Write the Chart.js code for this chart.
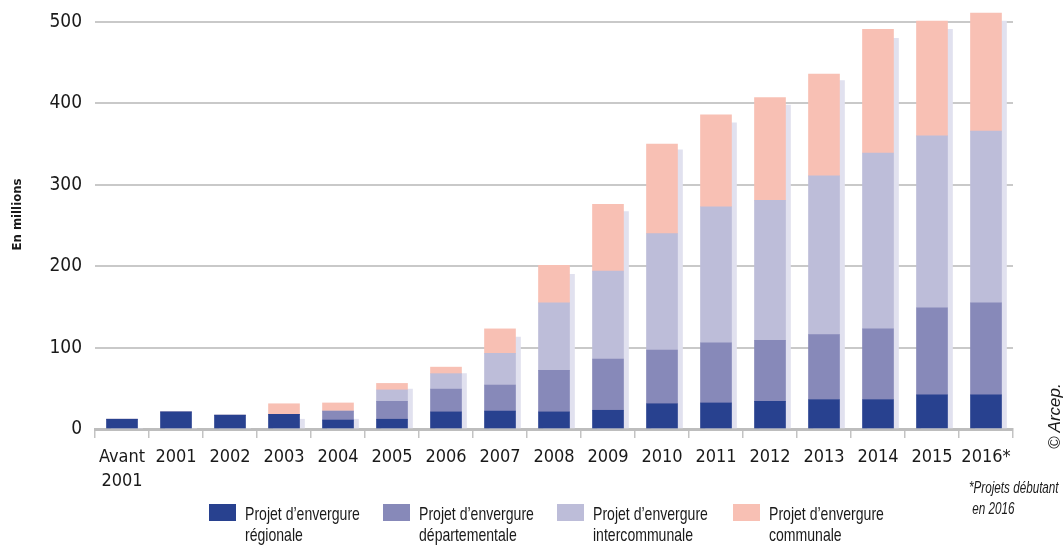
<!DOCTYPE html>
<html lang="fr">
<head>
<meta charset="utf-8">
<script src="https://cdn.jsdelivr.net/npm/chart.js@4/dist/chart.umd.min.js"></script>
<style>
  body { margin: 0; background: #fff; font-family: "Liberation Sans", sans-serif; color: #1a1a1a; }
  #cadre { position: relative; width: 1064px; height: 547px; overflow: hidden; }
  .legende { position: absolute; top: 504px; display: flex; align-items: flex-start; }
  .legende span.case { width: 27px; height: 17px; margin-right: 9px; flex: none; }
  .legende div { font-size: 19px; line-height: 21px; white-space: nowrap; transform: scaleX(0.74); transform-origin: 0 0; margin-top: -1px; }
  .note { position: absolute; left: 969px; top: 477px; font-size: 16px; line-height: 21px; font-style: italic; white-space: nowrap; transform: scaleX(0.73); transform-origin: 0 0; }
  .copyright { position: absolute; left: 1045px; top: 449px; font-size: 17px; font-style: italic; transform-origin: 0 0; transform: rotate(-90deg); white-space: nowrap; }
</style>
</head>
<body>
<div id="cadre">
  <canvas id="graphiqueReseaux"></canvas>
  <div class="legende" style="left:209px"><span class="case" style="background:#28418f"></span><div>Projet d’envergure<br>régionale</div></div>
  <div class="legende" style="left:383px"><span class="case" style="background:#8789b9"></span><div>Projet d’envergure<br>départementale</div></div>
  <div class="legende" style="left:557px"><span class="case" style="background:#bdbdd9"></span><div>Projet d’envergure<br>intercommunale</div></div>
  <div class="legende" style="left:733px"><span class="case" style="background:#f8c0b4"></span><div>Projet d’envergure<br>communale</div></div>
  <div class="note">*Projets débutant<br>&nbsp;en 2016</div>
  <div class="copyright">© Arcep.</div>
</div>
<script>
// années de début des projets
var annees = [['Avant', '2001'], '2001', '2002', '2003', '2004', '2005', '2006', '2007', '2008',
    '2009', '2010', '2011', '2012', '2013', '2014', '2015', '2016*'];

// montants cumulés par envergure (en millions)
var regionale      = [12, 21, 17, 18, 11, 12, 21, 22, 21, 23, 31, 32, 34, 36, 36, 42, 42];
var departementale = [0, 0, 0, 0, 11, 22, 28, 32, 51, 63, 66, 74, 75, 80, 87, 107, 113];
var intercommunale = [0, 0, 0, 0, 0, 14, 19, 39, 83, 108, 143, 167, 172, 195, 216, 211, 211];
var communale      = [0, 0, 0, 13, 10, 8, 8, 30, 46, 82, 110, 113, 126, 125, 152, 141, 145];
// barre grise derriere chaque colonne
var ombre          = [0, 0, 0, 12, 12, 49, 68, 113, 190, 267, 343, 376, 398, 428, 480, 491, 501];

var graduations = [0, 100, 200, 300, 400, 500];

var policeAxes = "'DejaVu Sans Condensed', 'Liberation Sans', sans-serif";

// decale l'ombre de quelques pixels vers la droite
var decalageOmbre = {
    id: 'decalageOmbre',
    beforeDatasetDraw: function (chart, args) {
        if (chart.data.datasets[args.index].ombre) {
            chart.ctx.save();
            chart.ctx.translate(5, 0);
        }
    },
    afterDatasetDraw: function (chart, args) {
        if (chart.data.datasets[args.index].ombre) {
            chart.ctx.restore();
        }
    }
};

function serie(label, valeurs, couleur) {
    return {
        label: label,
        data: valeurs,
        backgroundColor: couleur,
        stack: 'projets',
        order: 0,
        barThickness: 31
    };
}

var ctx = document.getElementById('graphiqueReseaux');
var chart = new Chart(ctx, {
    type: 'bar',
    data: {
        labels: annees,
        datasets: [
            serie('Projet d’envergure régionale', regionale, '#28418f'),
            serie('Projet d’envergure départementale', departementale, '#8789b9'),
            serie('Projet d’envergure intercommunale', intercommunale, '#bdbdd9'),
            serie('Projet d’envergure communale', communale, '#f8c0b4'),
            {
                label: 'ombre',
                data: ombre,
                ombre: true,
                backgroundColor: '#e1e1ef',
                stack: 'ombre',
                grouped: false,
                order: 1,
                barThickness: 31
            }
        ]
    },
    options: {
        responsive: true,
        maintainAspectRatio: false,
        animation: false,
        layout: { padding: { top: 0, right: 51, bottom: 0, left: 0 } },
        plugins: {
            legend: { display: false },
            tooltip: { enabled: false }
        },
        scales: {
            x: {
                stacked: true,
                grid: {
                    offset: true,
                    drawOnChartArea: false,
                    drawTicks: true,
                    tickLength: 9,
                    color: '#c3c3c3',
                    lineWidth: 1.5
                },
                border: { display: true, color: '#bdbdbd', width: 3 },
                ticks: {
                    color: '#1a1a1a',
                    padding: 8,
                    maxRotation: 0,
                    autoSkip: false,
                    font: { family: policeAxes, size: 18, lineHeight: 1.3 }
                },
                afterFit: function (scale) {
                    scale.height = 118;
                }
            },
            y: {
                stacked: true,
                min: 0,
                max: 527,
                afterBuildTicks: function (scale) {
                    scale.ticks = graduations.map(function (v) { return { value: v }; });
                },
                grid: {
                    drawTicks: false,
                    color: '#c9c9c9',
                    lineWidth: 2
                },
                border: { display: false },
                ticks: {
                    color: '#1a1a1a',
                    padding: 13,
                    font: { family: policeAxes, size: 19 }
                },
                title: {
                    display: true,
                    text: 'En millions',
                    color: '#1a1a1a',
                    padding: { top: 10, bottom: 0 },
                    font: { family: policeAxes, size: 13, weight: 'bold', lineHeight: 1.2 }
                },
                afterFit: function (scale) {
                    scale.width = 95;
                    scale.paddingTop = 0;
                    scale.paddingBottom = 0;
                }
            }
        }
    },
    plugins: [decalageOmbre]
});
</script>
</body>
</html>
